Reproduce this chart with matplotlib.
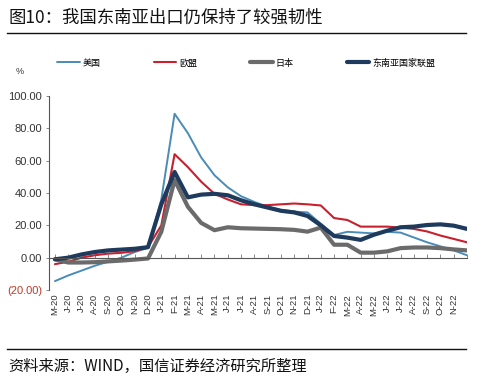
import matplotlib
matplotlib.use("Agg")
import matplotlib.pyplot as plt
from matplotlib.lines import Line2D

plt.rcParams['font.family'] = ['Noto Sans CJK SC', 'DejaVu Sans']

months = ['M-20', 'J-20', 'J-20', 'A-20', 'S-20', 'O-20', 'N-20', 'D-20',
          'J-21', 'F-21', 'M-21', 'A-21', 'M-21', 'J-21', 'J-21', 'A-21',
          'S-21', 'O-21', 'N-21', 'D-21', 'J-22', 'F-22', 'M-22', 'A-22',
          'M-22', 'J-22', 'J-22', 'A-22', 'S-22', 'O-22', 'N-22', '']

us = [-14.5, -11, -8, -5, -2.5, 0, 3.5, 6, 36, 89, 77, 62, 51, 43.5, 38, 34.5,
      31.5, 29.5, 28.5, 28, 21, 14, 16, 15.5, 15, 16, 15.5, 12.5, 9.5, 7, 4.5, 1.5]
eu = [-4, -2.5, 0, 1.5, 2.5, 3, 4, 6.5, 20, 64, 56, 47, 39.5, 36, 33, 32.5,
      32.5, 33, 33.5, 33, 32.3, 24.5, 23.3, 19.2, 19.2, 19.2, 18.6, 17.8, 16.2, 13.7, 11.6, 9.5]
jp = [-1, -3, -3, -2.8, -2.3, -1.8, -1.2, -0.5, 16, 48, 31.5, 21.5, 17, 18.8, 18.2, 18,
      17.8, 17.6, 17.2, 16.1, 18.6, 8, 8, 3.1, 3.1, 3.9, 5.9, 6.3, 6.3, 5.9, 5.1, 4.5]
asean = [-1, 0, 2, 3.5, 4.5, 5, 5.5, 6.5, 33, 53, 37.3, 39, 39.5, 38.6, 35.5, 33,
         31, 29, 28, 25.8, 20, 13.4, 12.4, 11, 14.2, 16.7, 18.8, 19.2, 20.2, 20.6, 19.8, 17.8]

series = [('美国', us, '#4a8bb8', 1.4),
          ('欧盟', eu, '#c8202f', 1.5),
          ('日本', jp, '#6b6b6b', 3.0),
          ('东南亚国家联盟', asean, '#1e3a5c', 3.0)]

yticks = [-20, 0, 20, 40, 60, 80, 100]
ylabels = ['(20.00)', '0.00', '20.00', '40.00', '60.00', '80.00', '100.00']

W, H = 487, 384
fig = plt.figure(figsize=(W / 100, H / 100), dpi=100)
ax = fig.add_axes([49 / W, 1 - 290 / H, (467 - 49) / W, (290 - 96) / H])

x = list(range(len(months)))
for name, vals, col, lw in series:
    ax.plot(x, vals, color=col, lw=lw, solid_joinstyle='round', solid_capstyle='round', label=name)

ax.set_xlim(-0.45, len(months) - 1)
ax.set_ylim(-20, 100)

for s in ['top', 'right']:
    ax.spines[s].set_visible(False)
ax.spines['bottom'].set_position(('data', 0))
ax.spines['bottom'].set_color('#555555')
ax.spines['bottom'].set_linewidth(0.8)
ax.spines['left'].set_color('#555555')
ax.spines['left'].set_linewidth(0.8)

ax.set_xticks(x)
ax.set_xticklabels(months, rotation=90, fontsize=6.8, family='Liberation Sans', color='#333333')
ax.tick_params(axis='x', direction='in', length=3, width=0.6, color='#777777', pad=26)

ax.set_yticks(yticks)
ax.set_yticklabels(ylabels, fontsize=8, family='Liberation Sans')
ax.tick_params(axis='y', direction='out', length=2, width=0.6, color='#777777', pad=3)
for lab in ax.get_yticklabels():
    lab.set_color('#c0392b' if lab.get_text().startswith('(') else '#333333')

# title, rules, source
fig.text(8 / W, 1 - 18 / H, '图10：我国东南亚出口仍保持了较强韧性', fontsize=12.5,
         ha='left', va='center', color='#111111')
fig.add_artist(Line2D([7 / W, 466 / W], [1 - 32.5 / H, 1 - 32.5 / H], color='#111111', lw=1.0))
fig.add_artist(Line2D([7 / W, 466 / W], [1 - 349 / H, 1 - 349 / H], color='#111111', lw=1.0))
fig.text(8 / W, 1 - 366 / H, '资料来源：WIND，国信证券经济研究所整理', fontsize=11,
         ha='left', va='center', color='#111111')

fig.text(20 / W, 1 - 71 / H, '%', fontsize=6.5, family='Liberation Sans',
         ha='center', va='center', color='#333333')

fig.legend(loc='center left', bbox_to_anchor=(57 / W, 1 - 63 / H), ncol=4, frameon=False,
           fontsize=6.5, handlelength=2.5, handletextpad=0.3, columnspacing=5.9,
           borderpad=0, borderaxespad=0)

fig.savefig('out.png', dpi=100)
